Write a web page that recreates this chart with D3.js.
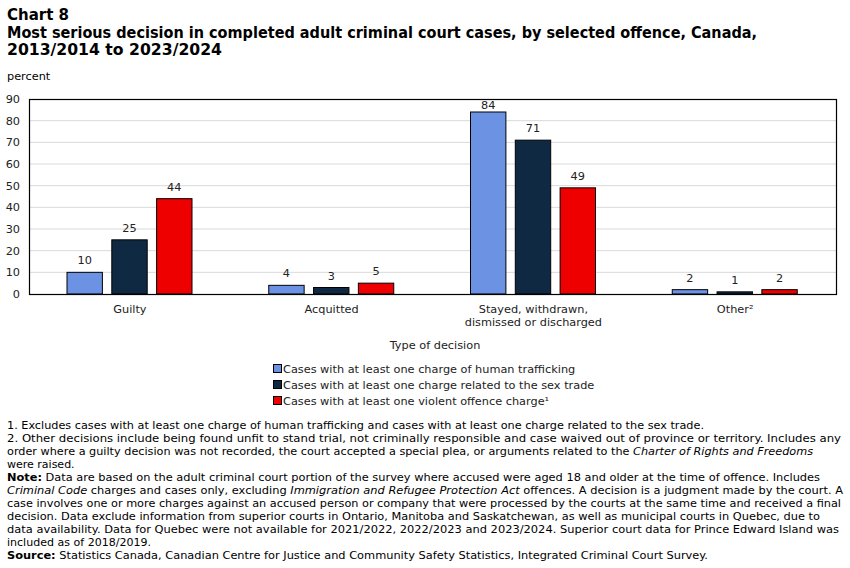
<!DOCTYPE html>
<html>
<head>
<meta charset="utf-8">
<script src="https://cdn.jsdelivr.net/npm/d3@7"></script>
<style>
  body { margin: 0; background: #fff; }
  text { font-family: "DejaVu Sans", Verdana, sans-serif; }
</style>
</head>
<body>
<div id="chart"></div>
<script>
// Categories and series
const decisions = ["Guilty", "Acquitted", "Stayed, withdrawn,\ndismissed or discharged", "Other²"];
const seriesNames = [
  "Cases with at least one charge of human trafficking",
  "Cases with at least one charge related to the sex trade",
  "Cases with at least one violent offence charge¹"
];
const trafficking = [10, 4, 84, 2];
const sexTrade = [25, 3, 71, 1];
const violent = [44, 5, 49, 2];
const yTicks = [0, 10, 20, 30, 40, 50, 60, 70, 80, 90];
const colors = ["#6b92e3", "#0f2942", "#ee0000"];

const width = 850, height = 568;
const marginLeft = 29, marginRight = 14, marginTop = 99, plotBottom = 294;
const fs = "11.3px";

const svg = d3.select("#chart").append("svg")
  .attr("width", width).attr("height", height);

// title
const title = svg.append("g").attr("font-weight", "bold").attr("font-size", "15px").attr("fill", "#000");
title.append("text").attr("x", 7).attr("y", 20).text("Chart 8");
title.append("text").attr("x", 7).attr("y", 38).attr("textLength", 750).attr("lengthAdjust", "spacingAndGlyphs")
  .text("Most serious decision in completed adult criminal court cases, by selected offence, Canada,");
title.append("text").attr("x", 7).attr("y", 55).attr("textLength", 215).attr("lengthAdjust", "spacingAndGlyphs")
  .text("2013/2014 to 2023/2024");

svg.append("text").attr("x", 7).attr("y", 80).attr("font-size", fs).text("percent");

const x = d3.scaleBand().domain(decisions).range([marginLeft, width - marginRight]);
const xInner = d3.scaleBand().domain(d3.range(3)).range([38, 163]).paddingInner(0.21);
const y = d3.scaleLinear().domain([0, 90]).range([plotBottom, marginTop]);

// gridlines
svg.append("g").selectAll("line").data(yTicks.slice(1, -1)).join("line")
  .attr("x1", marginLeft).attr("x2", width - marginRight)
  .attr("y1", d => y(d)).attr("y2", d => y(d))
  .attr("stroke", "#d9d9d9");

// y axis
const yAxis = svg.append("g").attr("transform", `translate(${marginLeft},0)`)
  .call(d3.axisLeft(y).tickValues(yTicks).tickSize(0).tickPadding(9));
yAxis.select(".domain").remove();
yAxis.selectAll("text").attr("font-size", fs).attr("font-family", "DejaVu Sans").attr("fill", "#222");

// bars
const series = [trafficking, sexTrade, violent];
series.forEach((vals, si) => {
  const g = svg.append("g");
  g.selectAll("rect").data(vals).join("rect")
    .attr("x", (d, i) => x(decisions[i]) + xInner(si))
    .attr("y", d => y(d))
    .attr("width", xInner.bandwidth())
    .attr("height", d => y(0) - y(d))
    .attr("fill", colors[si])
    .attr("stroke", "#000").attr("stroke-width", 1);
  g.selectAll("text").data(vals).join("text")
    .attr("x", (d, i) => x(decisions[i]) + xInner(si) + xInner.bandwidth() / 2)
    .attr("y", d => Math.max(y(d) - 8, marginTop + 10))
    .attr("text-anchor", "middle").attr("font-size", fs).attr("fill", "#222")
    .text(d => d);
});

// frame
svg.append("rect").attr("x", marginLeft + 0.5).attr("y", marginTop + 0.5)
  .attr("width", width - marginRight - marginLeft).attr("height", plotBottom - marginTop)
  .attr("fill", "none").attr("stroke", "#000").attr("stroke-width", 1.2);

// x labels
const xl = svg.append("g").attr("font-size", fs).attr("fill", "#222").attr("text-anchor", "middle");
decisions.forEach(d => {
  d.split("\n").forEach((line, li) => {
    xl.append("text").attr("x", x(d) + x.bandwidth() / 2).attr("y", 313 + li * 13).text(line);
  });
});
svg.append("text").attr("x", 435).attr("y", 349).attr("text-anchor", "middle")
  .attr("font-size", fs).attr("fill", "#222").text("Type of decision");

// legend
const legend = svg.append("g");
seriesNames.forEach((n, i) => {
  const ly = 373 + i * 16;
  legend.append("rect").attr("x", 273.5).attr("y", ly - 8.5).attr("width", 8).attr("height", 8)
    .attr("fill", colors[i]).attr("stroke", "#000");
  legend.append("text").attr("x", 283).attr("y", ly).attr("font-size", fs).attr("fill", "#222").text(n);
});

// footnotes
const notes = [
  { y: 429, len: 697, parts: [["1. Excludes cases with at least one charge of human trafficking and cases with at least one charge related to the sex trade.", ""]] },
  { y: 442, len: 834, parts: [["2. Other decisions include being found unfit to stand trial, not criminally responsible and case waived out of province or territory. Includes any", ""]] },
  { y: 455, len: 806, parts: [["order where a guilty decision was not recorded, the court accepted a special plea, or arguments related to the ", ""], ["Charter of Rights and Freedoms", "i"]] },
  { y: 468, len: null, parts: [["were raised.", ""]] },
  { y: 481, len: 813, parts: [["Note:", "b"], [" Data are based on the adult criminal court portion of the survey where accused were aged 18 and older at the time of offence. Includes", ""]] },
  { y: 494, len: 836, parts: [["Criminal Code", "i"], [" charges and cases only, excluding ", ""], ["Immigration and Refugee Protection Act", "i"], [" offences. A decision is a judgment made by the court. A", ""]] },
  { y: 507, len: 834, parts: [["case involves one or more charges against an accused person or company that were processed by the courts at the same time and received a final", ""]] },
  { y: 520, len: 813, parts: [["decision. Data exclude information from superior courts in Ontario, Manitoba and Saskatchewan, as well as municipal courts in Quebec, due to", ""]] },
  { y: 533, len: 832, parts: [["data availability. Data for Quebec were not available for 2021/2022, 2022/2023 and 2023/2024. Superior court data for Prince Edward Island was", ""]] },
  { y: 546, len: 144, parts: [["included as of 2018/2019.", ""]] },
  { y: 559, len: 701, parts: [["Source:", "b"], [" Statistics Canada, Canadian Centre for Justice and Community Safety Statistics, Integrated Criminal Court Survey.", ""]] }
];
const fn = svg.append("g").attr("font-size", "11px").attr("fill", "#000");
notes.forEach(n => {
  const t = fn.append("text").attr("x", 7).attr("y", n.y).attr("xml:space", "preserve");
  if (n.len) t.attr("textLength", n.len).attr("lengthAdjust", "spacingAndGlyphs");
  n.parts.forEach(([s, st]) => {
    const ts = t.append("tspan").text(s);
    if (st === "i") ts.attr("font-style", "italic");
    if (st === "b") ts.attr("font-weight", "bold");
  });
});
</script>
</body>
</html>
